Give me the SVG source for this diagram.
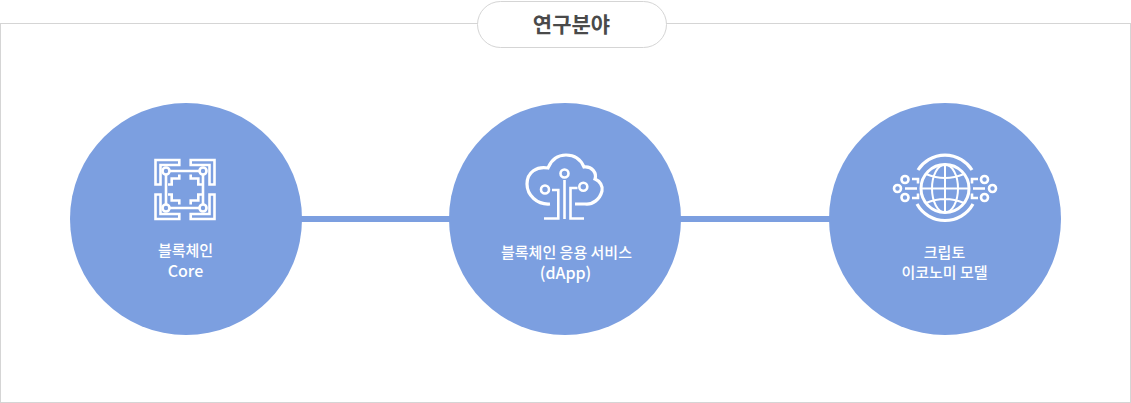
<svg xmlns="http://www.w3.org/2000/svg" xmlns:xlink="http://www.w3.org/1999/xlink" width="1131" height="403" viewBox="0 0 1131 403">
<style>
text{font-family:"Noto Sans CJK KR","Liberation Sans",sans-serif;text-anchor:middle}
.lab{font-size:15px;fill:#fff;font-weight:500}
.lat{font-size:16px}
.circle{fill:#7c9fe0}
.ic{fill:none;stroke:#fff;stroke-width:2.600}
.ict{fill:none;stroke:#fff;stroke-width:3.200}
</style>
<defs>
<g id="quad">
<path d="M179.300,160H155.500V184.500H160.500V165H179.300Z"/>
<path d="M179.300,174.500V178.500H171.700V184.500H168"/>
</g>
</defs>
<rect x="0.5" y="23.5" width="1130" height="379" fill="#fff" stroke="#d5d5d5"/>
<g id="connectors" fill="#7c9fe0">
<rect x="300" y="216" width="152" height="6"/>
<rect x="679" y="216" width="152" height="6"/>
</g>
<g id="title">
<rect x="477.5" y="1.5" width="189" height="46" rx="23" fill="#fff" stroke="#d5d5d5"/>
<text x="571.5" y="32" font-size="21" font-weight="700" fill="#4a4a4a">연구분야</text>
</g>
<g id="node-core">
<circle class="circle" cx="186" cy="219" r="116"/>
<g class="ic">
<use xlink:href="#quad" href="#quad"/>
<use xlink:href="#quad" href="#quad" transform="translate(370,0) scale(-1,1)"/>
<use xlink:href="#quad" href="#quad" transform="translate(0,379) scale(1,-1)"/>
<use xlink:href="#quad" href="#quad" transform="translate(370,379) scale(-1,-1)"/>
<path d="M170,171H199M170,208H199M166,175V204M203,175V204"/>
<circle cx="166" cy="171" r="3.500"/><circle cx="203" cy="171" r="3.500"/><circle cx="166" cy="208" r="3.500"/><circle cx="203" cy="208" r="3.500"/>
</g>
<text class="lab" x="185.500" y="256">블록체인</text>
<text class="lab lat" x="185.500" y="277">Core</text>
</g>
<g id="node-dapp">
<circle class="circle" cx="565" cy="219" r="116"/>
<g class="ic">
<path class="ict" d="M550,204C537,205 527,195 527,184C527,172 537,166 548,168C552,158 559,155 566,155C575,155 581,160 584,167C592,166 597,173 595,179C600,181 603,186 602,191C600,199 593,205 585,204L575,204"/>
<circle cx="545" cy="189.500" r="4"/><circle cx="564.500" cy="173.500" r="4"/><circle cx="583.300" cy="186.700" r="4"/>
<path d="M564.500,180V219M544,218.500H558.300V190H552M584,218.500H570.500V188H577.500"/>
</g>
<text class="lab" x="566.500" y="258">블록체인 응용 서비스</text>
<text class="lab lat" x="565.500" y="279">(dApp)</text>
</g>
<g id="node-crypto">
<circle class="circle" cx="945" cy="219" r="116"/>
<g class="ic">
<circle cx="945" cy="188.500" r="24" stroke-width="3"/>
<g stroke-width="2">
<ellipse cx="945" cy="188.500" rx="13" ry="24"/>
<path d="M945,164V212M921,188.500H969M926,174Q945,182 964,174M926,203Q945,195 964,203"/>
</g>
<path class="ict" d="M918,170A32,32 0 0 1 972,170M917,204A32,32 0 0 0 973,204"/>
<circle cx="905" cy="179.500" r="3.500"/><circle cx="897.500" cy="188.500" r="3.500"/><circle cx="905" cy="197.500" r="3.500"/>
<circle cx="984.500" cy="179.500" r="3.500"/><circle cx="992.500" cy="188.500" r="3.500"/><circle cx="984.500" cy="197.500" r="3.500"/>
<path d="M905,188.500H917M973,188.500H985M912,179H918V183.500M912,198H918V193.500M978,179H972V183.500M978,198H972V193.500"/>
</g>
<text class="lab" x="944.500" y="258">크립토</text>
<text class="lab" x="944.500" y="278">이코노미 모델</text>
</g>
</svg>
